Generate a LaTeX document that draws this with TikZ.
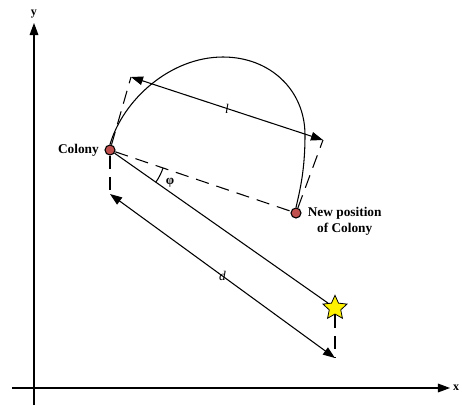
\documentclass[tikz,border=0pt]{standalone}
\usepackage{fontspec}
\setmainfont{Liberation Serif}
\usetikzlibrary{arrows.meta,shapes.geometric,positioning}
\definecolor{colonyred}{RGB}{192,80,77}
\begin{document}
\begin{tikzpicture}[
            x={(0.75pt,0pt)},
            y={(0pt,-0.75pt)},
            line width=0.8pt,
            tip/.style={-{Triangle[length=9pt,width=6.5pt]}},
            dimline/.style={{Triangle[length=9pt,width=6.5pt]}-{Triangle[length=9pt,width=6.5pt]}},
            longdash/.style={dash pattern=on 10pt off 6pt},
            dot/.style={circle, draw, fill=colonyred, inner sep=0pt, minimum size=7.5pt},
            lbl/.style={font=\bfseries}
        ]
        \useasboundingbox (0,0) rectangle (462,405);
        % axes
        \coordinate (xstart) at (12,388);
        \coordinate (xend) at (450,388);
        \coordinate (ystart) at (34,405);
        \coordinate (yend) at (34,23);
        \draw[tip] (xstart) -- (xend);
        \draw[tip] (ystart) -- (yend);
        \node[lbl, font=\bfseries\small, inner sep=0.5pt, right=1.5pt of xend] (xlab) {x};
        \node[lbl, font=\bfseries\small, above=0pt of yend] (ylab) {y};

        % colony, new position and target
        \node[dot] (colony) at (110,150) {};
        \node[dot] (newpos) at (296,213) {};
        \node[star, star points=5, star point ratio=2.1, draw, fill=yellow,
              minimum size=19pt, inner sep=0pt, line width=0.6pt] (target) at (335,308) {};
        \node[lbl, left=0.5pt of colony] (colonylab) {Colony};
        \node[lbl, align=center, right=1pt of newpos, yshift=-6.5pt] (newposlab) {New position\\of Colony};

        \coordinate (lA) at (131,77);
        \coordinate (lB) at (323,140);
        \coordinate (dA) at (110,194);
        \coordinate (dB) at (335,358);

        % path of the move
        \draw (colony.north) .. controls (123,100) and (170,57) .. (223,57)
            .. controls (270,57) and (305,90) .. (305,135)
            .. controls (305,170) and (300,190) .. (newpos.north);
        \draw[longdash] (colony) -- (newpos);
        \draw (colony) -- (target);
        \draw ([shift={(-35.1:42pt)}]colony.center) arc[start angle=-35.1, end angle=-18.8, radius=42pt];
        \node at (170,183) {\textbf{φ}};

        % step length l
        \draw[longdash] (colony) -- (lA);
        \draw[longdash] (newpos) -- (lB);
        \draw[dimline] (lA) -- (lB) node[midway] {\itshape l};

        % distance d
        \draw[longdash] (colony) -- (dA);
        \draw[longdash] (target) -- (dB);
        \draw[dimline] (dA) -- (dB) node[midway] {\itshape d};
    \end{tikzpicture}
\end{document}
